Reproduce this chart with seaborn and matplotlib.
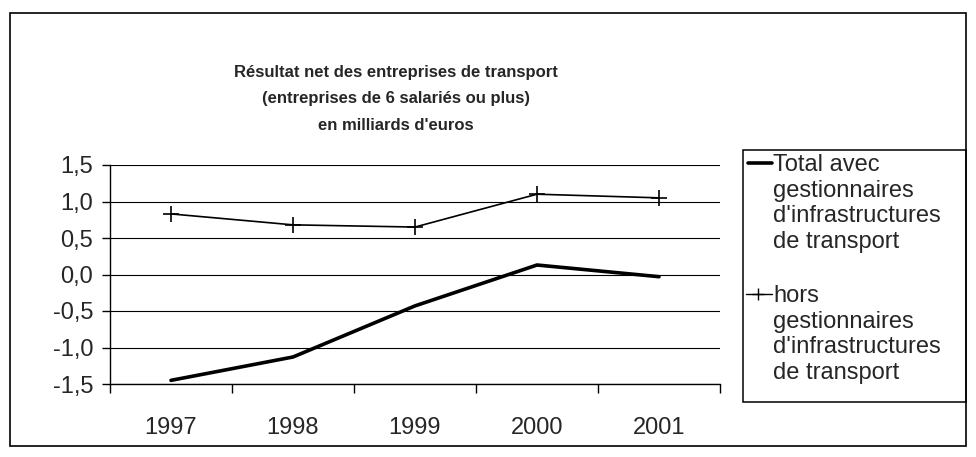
import matplotlib
matplotlib.use("Agg")
import matplotlib.pyplot as plt
import matplotlib.patches as mpatches
from matplotlib.lines import Line2D
import pandas as pd
import seaborn as sns

years = ["1997", "1998", "1999", "2000", "2001"]
total_avec = [-1.45, -1.13, -0.43, 0.13, -0.03]
hors_gest = [0.83, 0.68, 0.65, 1.10, 1.05]
y_ticks = [-1.5, -1.0, -0.5, 0.0, 0.5, 1.0, 1.5]

titre = ["Résultat net des entreprises de transport",
         "(entreprises de 6 salariés ou plus)",
         "en milliards d'euros"]
lbl_total = "Total avec\ngestionnaires\nd'infrastructures\nde transport"
lbl_hors = "hors\ngestionnaires\nd'infrastructures\nde transport"

df = pd.DataFrame({"annee": years, "total": total_avec, "hors": hors_gest})

sns.set_style("white")
plt.rcParams["font.family"] = ["Liberation Sans", "DejaVu Sans"]

W, H = 976, 457
fig = plt.figure(figsize=(W / 100, H / 100), dpi=100)
ax = fig.add_axes([110 / W, 1 - 384 / H, (720 - 110) / W, (384 - 165) / H])


def fx(px):
    return px / W


def fy(py):
    return 1 - py / H


for y in y_ticks:
    ax.axhline(y, color="black", lw=0.8, zorder=1)

sns.lineplot(data=df, x="annee", y="total", ax=ax, color="black", lw=2.6,
             sort=False, zorder=3, legend=False)
sns.lineplot(data=df, x="annee", y="hors", ax=ax, color="black", lw=1.2,
             marker="+", markersize=12, markeredgewidth=1.2, markeredgecolor="black",
             sort=False, zorder=3, legend=False)

ax.set_xlim(-0.5, len(years) - 0.5)
ax.set_ylim(-1.5, 1.5)
ax.set_yticks(y_ticks)
ax.set_yticklabels([f"{v:.1f}".replace(".", ",") for v in y_ticks], fontsize=17)
ax.set_xticks(range(len(years)))
ax.set_xticklabels(years, fontsize=17)
ax.set_xticks([i - 0.5 for i in range(len(years) + 1)], minor=True)
ax.tick_params(axis="x", which="major", length=0, pad=24)
ax.tick_params(axis="x", which="minor", length=6.5, width=1, direction="out", bottom=True, color="black")
ax.tick_params(axis="y", length=6, width=1, direction="out", color="black", left=True, pad=6)
ax.set_xlabel("")
ax.set_ylabel("")
for s in ["top", "right"]:
    ax.spines[s].set_visible(False)
for s in ["left", "bottom"]:
    ax.spines[s].set_color("black")
    ax.spines[s].set_linewidth(1)

# titre
for i, ligne in enumerate(titre):
    fig.text(fx(396), fy(72 + 26.5 * i), ligne, ha="center", va="center",
             fontsize=12, fontweight="bold")

# legende
fig.patches.append(mpatches.Rectangle((fx(743), fy(402)), fx(966 - 743), (402 - 150) / H,
                                      transform=fig.transFigure, fill=False,
                                      edgecolor="black", lw=1.1))
fig.lines.append(Line2D([fx(748), fx(772)], [fy(163), fy(163)], transform=fig.transFigure,
                        color="black", lw=2.6))
fig.lines.append(Line2D([fx(746), fx(772)], [fy(294), fy(294)], transform=fig.transFigure,
                        color="black", lw=1.0))
fig.lines.append(Line2D([fx(758)], [fy(294)], transform=fig.transFigure, color="black",
                        marker="+", markersize=9, markeredgewidth=1.0))
fig.text(fx(773), fy(154), lbl_total, ha="left", va="top", fontsize=17, linespacing=1.22)
fig.text(fx(773), fy(285), lbl_hors, ha="left", va="top", fontsize=17, linespacing=1.22)

# cadre
fig.patches.append(mpatches.Rectangle((fx(10), fy(446)), fx(956), (446 - 13) / H,
                                      transform=fig.transFigure, fill=False,
                                      edgecolor="black", lw=1.2))

fig.savefig("out.png", dpi=100)
